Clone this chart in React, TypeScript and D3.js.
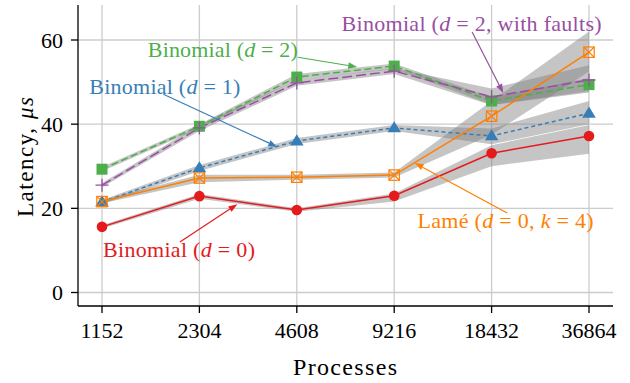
import React from "react";
import * as d3 from "d3";

const processes = [1152, 2304, 4608, 9216, 18432, 36864];
const yTicks = [0, 20, 40, 60];

const d0 = [15.6, 22.9, 19.6, 23.0, 33.1, 37.2];
const d0Lo = [15.2, 22.3, 19.2, 21.6, 30.0, 33.0];
const d0Hi = [16.0, 23.4, 20.0, 23.5, 35.0, 39.8];

const d1 = [21.5, 29.6, 36.0, 39.1, 37.2, 42.6];
const d1Lo = [21.0, 28.9, 35.3, 38.4, 35.2, 40.0];
const d1Hi = [22.0, 30.3, 36.7, 39.8, 39.0, 45.5];

const d2 = [29.3, 39.5, 51.2, 53.8, 45.5, 49.4];
const d2Lo = [28.8, 39.0, 50.5, 53.1, 44.6, 47.8];
const d2Hi = [29.8, 40.0, 51.9, 54.4, 46.4, 51.0];

const d2f = [25.5, 39.1, 49.8, 52.6, 46.5, 50.5];
const d2fLo = [25.0, 38.4, 49.1, 51.9, 44.5, 47.5];
const d2fHi = [26.0, 39.8, 50.5, 53.3, 48.5, 54.0];

const lame = [21.6, 27.2, 27.4, 27.9, 41.9, 57.1];
const lameLo = [21.2, 26.2, 26.8, 27.3, 37.5, 52.5];
const lameHi = [22.0, 28.0, 28.0, 28.5, 45.5, 62.0];

const W = 630;
const H = 383;
const left = 78, right = 613, top = 5, bottom = 306;

const x = d3.scaleLog().base(2).domain([1152, 36864]).range([102, 589]);
const y = d3.scaleLinear().domain([0, 60]).range([292.5, 40]);
const xi = (i: number) => x(1152 * Math.pow(2, i));

const FONT = "'Liberation Serif', serif";

type Series = {
  name: string;
  vals: number[];
  lo: number[];
  hi: number[];
  color: string;
  dash: string;
  marker: string;
};

const series: Series[] = [
  { name: "d2", vals: d2, lo: d2Lo, hi: d2Hi, color: "#4daf4a", dash: "7,3.5", marker: "square" },
  { name: "d2f", vals: d2f, lo: d2fLo, hi: d2fHi, color: "#984ea3", dash: "10,4", marker: "plus" },
  { name: "d1", vals: d1, lo: d1Lo, hi: d1Hi, color: "#377eb8", dash: "4,3", marker: "triangle" },
  { name: "lame", vals: lame, lo: lameLo, hi: lameHi, color: "#ff7f00", dash: "", marker: "xsquare" },
  { name: "d0", vals: d0, lo: d0Lo, hi: d0Hi, color: "#e41a1c", dash: "", marker: "circle" },
];

function Marker({ kind, cx, cy, color }: { kind: string; cx: number; cy: number; color: string }) {
  if (kind === "circle") return <circle cx={cx} cy={cy} r={5.3} fill={color} />;
  if (kind === "square")
    return <rect x={cx - 5.5} y={cy - 5.5} width={11} height={11} fill={color} />;
  if (kind === "triangle") {
    const s = 6.8;
    return (
      <path
        d={`M${cx},${cy - s} L${cx + s},${cy + s * 0.65} L${cx - s},${cy + s * 0.65} Z`}
        fill={color}
      />
    );
  }
  if (kind === "plus")
    return (
      <path
        d={`M${cx - 6.5},${cy} L${cx + 6.5},${cy} M${cx},${cy - 6.5} L${cx},${cy + 6.5}`}
        stroke={color}
        strokeWidth={1.3}
      />
    );
  if (kind === "xsquare") {
    const s = 5.2;
    return (
      <g stroke={color} strokeWidth={1.2} fill="none">
        <rect x={cx - s} y={cy - s} width={2 * s} height={2 * s} />
        <path d={`M${cx - s},${cy - s} L${cx + s},${cy + s} M${cx + s},${cy - s} L${cx - s},${cy + s}`} />
      </g>
    );
  }
  return null;
}

type Ann = {
  parts: { t: string; it?: boolean }[];
  color: string;
  tx: number; ty: number; len: number;
  ax: number; ay: number;
  hx: number; hy: number;
};

const annotations: Ann[] = [
  {
    parts: [{ t: "Binomial (" }, { t: "d", it: true }, { t: " = 2)" }],
    color: "#4daf4a", tx: 0.47, ty: 55.9, len: 150, ax: 2.01, ay: 55.9, hx: 2.62, hy: 53.6,
  },
  {
    parts: [{ t: "Binomial (" }, { t: "d", it: true }, { t: " = 1)" }],
    color: "#377eb8", tx: -0.13, ty: 47.1, len: 151, ax: 0.63, ay: 47.1, hx: 1.8, hy: 34.6,
  },
  {
    parts: [{ t: "Binomial (" }, { t: "d", it: true }, { t: " = 2, with faults)" }],
    color: "#984ea3", tx: 2.46, ty: 62.2, len: 260, ax: 3.8, ay: 61.9, hx: 4.12, hy: 47.4,
  },
  {
    parts: [{ t: "Binomial (" }, { t: "d", it: true }, { t: " = 0)" }],
    color: "#e41a1c", tx: 0.01, ty: 8.4, len: 152, ax: 0.8, ay: 12.0, hx: 1.39, hy: 21.0,
  },
  {
    parts: [{ t: "Lamé (" }, { t: "d", it: true }, { t: " = 0, " }, { t: "k", it: true }, { t: " = 4)" }],
    color: "#ff7f00", tx: 3.24, ty: 15.3, len: 176, ax: 4.16, ay: 18.9, hx: 3.21, hy: 30.8,
  },
];

function Arrow({ a }: { a: Ann }) {
  const x1 = xi(a.ax), y1 = y(a.ay), x2 = xi(a.hx), y2 = y(a.hy);
  const ang = Math.atan2(y2 - y1, x2 - x1);
  const L = 9, Wd = 3.2;
  const bx = x2 - L * Math.cos(ang), by = y2 - L * Math.sin(ang);
  const px = -Math.sin(ang) * Wd, py = Math.cos(ang) * Wd;
  return (
    <g>
      <line x1={x1} y1={y1} x2={bx} y2={by} stroke={a.color} strokeWidth={1.2} />
      <path d={`M${x2},${y2} L${bx + px},${by + py} L${bx - px},${by - py} Z`} fill={a.color} />
    </g>
  );
}

export default function App() {
  const line = (vals: number[]) =>
    d3.line<number>().x((_, i) => x(processes[i])).y((v) => y(v))(vals) || "";
  const area = (lo: number[], hi: number[]) =>
    d3
      .area<number>()
      .x((_, i) => x(processes[i]))
      .y0((_, i) => y(lo[i]))
      .y1((_, i) => y(hi[i]))(lo) || "";

  return (
    <svg width={W} height={H} style={{ position: "absolute", left: 0, top: 0, fontFamily: FONT }}>
      <rect width={W} height={H} fill="white" />
      {/* grid */}
      <g stroke="#cccccc" strokeWidth={1.3}>
        {processes.map((p) => (
          <line key={p} x1={x(p)} x2={x(p)} y1={top} y2={bottom} />
        ))}
        {yTicks.map((t) => (
          <line key={t} x1={left} x2={right} y1={y(t)} y2={y(t)} />
        ))}
      </g>
      {/* bands */}
      {series.map((s) => (
        <path key={s.name + "b"} d={area(s.lo, s.hi)} fill="#7f7f7f" opacity={0.45} />
      ))}
      {/* lines */}
      {series.map((s) => (
        <path
          key={s.name + "l"}
          d={line(s.vals)}
          fill="none"
          stroke={s.color}
          strokeWidth={1.5}
          strokeDasharray={s.dash || undefined}
        />
      ))}
      {series.map((s) =>
        s.vals.map((v, i) => (
          <Marker key={s.name + i} kind={s.marker} cx={x(processes[i])} cy={y(v)} color={s.color} />
        ))
      )}
      {/* axes */}
      <g stroke="black" strokeWidth={1.3}>
        <line x1={left} x2={left} y1={top} y2={bottom} />
        <line x1={left} x2={right} y1={bottom} y2={bottom} />
        {processes.map((p) => (
          <line key={p} x1={x(p)} x2={x(p)} y1={bottom} y2={bottom + 7} />
        ))}
        {yTicks.map((t) => (
          <line key={t} x1={left - 7} x2={left} y1={y(t)} y2={y(t)} />
        ))}
      </g>
      <g fontSize={22} fill="black">
        {processes.map((p) => (
          <text key={p} x={x(p)} y={338} textAnchor="middle">
            {p}
          </text>
        ))}
        {yTicks.map((t) => (
          <text key={t} x={63} y={y(t) + 7.5} textAnchor="end">
            {t}
          </text>
        ))}
        <text x={345} y={375} textAnchor="middle" fontSize={24} textLength={104}>
          Processes
        </text>
        <text transform="translate(33,157) rotate(-90)" textAnchor="middle" fontSize={23} textLength={120}>
          Latency, <tspan fontStyle="italic">μs</tspan>
        </text>
      </g>
      {/* annotations */}
      {annotations.map((a, k) => (
        <g key={k}>
          <Arrow a={a} />
          <text x={xi(a.tx)} y={y(a.ty)} fill={a.color} fontSize={22} textLength={a.len}>
            {a.parts.map((p, j) => (
              <tspan key={j} fontStyle={p.it ? "italic" : undefined}>
                {p.t}
              </tspan>
            ))}
          </text>
        </g>
      ))}
    </svg>
  );
}
